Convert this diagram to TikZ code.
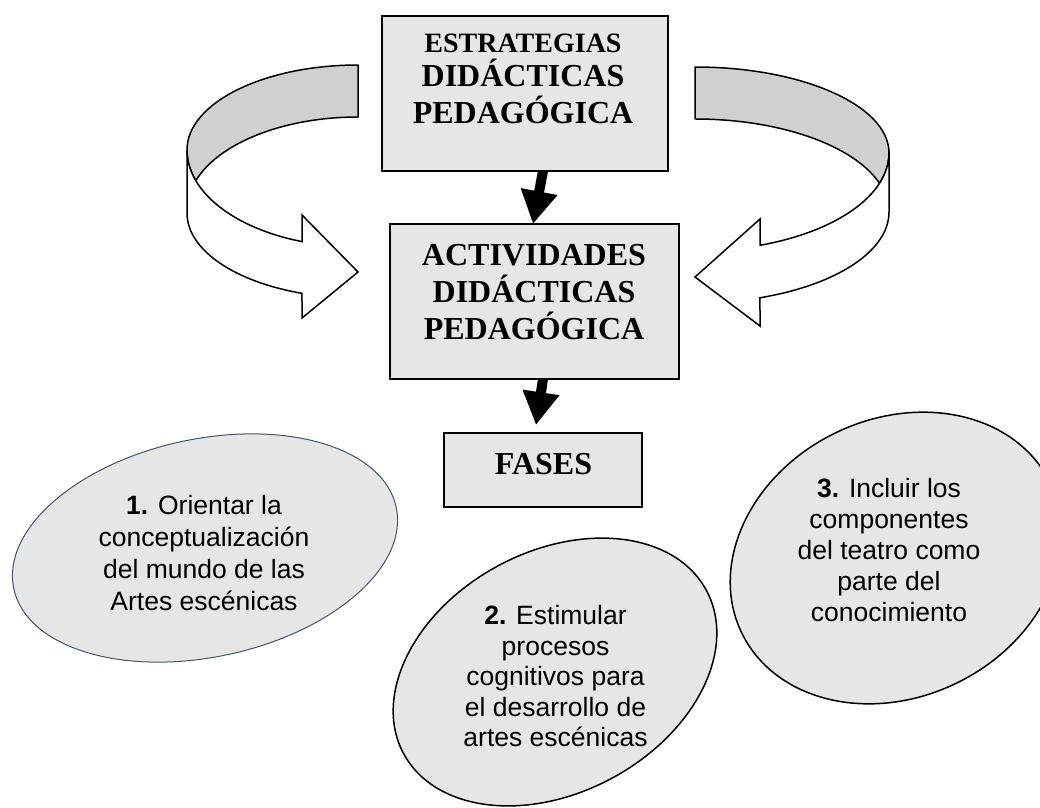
\documentclass[tikz,border=0pt]{standalone}
\usepackage{fontspec}
\setmainfont{Liberation Serif}
\newfontfamily\arialf{Liberation Sans}
\usetikzlibrary{shapes.geometric,arrows.meta,calc}
\definecolor{boxgray}{HTML}{E6E6E6}
\definecolor{bandgray}{HTML}{D0D0D0}
\definecolor{slate}{HTML}{44546A}
\begin{document}
\begin{tikzpicture}[x=1pt,y=-1pt,
  titlebox/.style={draw=black, line width=2pt, fill=boxgray, inner sep=0pt, outer sep=0pt},
  titletext/.style={font=\bfseries\fontsize{32}{37}\selectfont, align=center, inner sep=0pt},
  phase/.style={ellipse, fill=boxgray, inner sep=0pt, outer sep=0pt},
  phasetext/.style={font=\arialf\fontsize{26.5}{31}\selectfont, align=center, inner sep=0pt},
  backband/.style={draw=black, line width=1.5pt, fill=bandgray, line join=round},
  frontband/.style={draw=black, line width=1.5pt, fill=white, line join=miter},
  flow/.style={line width=10pt, -{Triangle[length=33pt,width=35pt]}}
]
\useasboundingbox (0,0) rectangle (1040,807);
\clip (0,0) rectangle (1040,807);

% curved arrow, left
\filldraw[backband] (358,65)
  arc[start angle=270, end angle=180, x radius=171, y radius=85]
  arc[start angle=180, end angle=161.59, x radius=171, y radius=97]
  arc[start angle=198.41, end angle=270, x radius=171, y radius=93] -- cycle;
\filldraw[frontband] (187,150) -- (187,213)
  arc[start angle=180, end angle=109.12, x radius=171, y radius=85]
  -- (302,318) -- (358,272) -- (302,215) -- (302,241.6)
  arc[start angle=109.12, end angle=180, x radius=171, y radius=97] -- cycle;

% curved arrow, right
\filldraw[backband] (695,67)
  arc[start angle=270, end angle=360, x radius=194, y radius=86]
  arc[start angle=0, end angle=17.99, x radius=194, y radius=98]
  arc[start angle=342.01, end angle=270, x radius=194, y radius=93] -- cycle;
\filldraw[frontband] (889,153) -- (889,212)
  arc[start angle=0, end angle=70.43, x radius=194, y radius=91]
  -- (760,326) -- (695,277) -- (760,219) -- (760,245.3)
  arc[start angle=70.43, end angle=0, x radius=194, y radius=98] -- cycle;

% boxes
\node[titlebox, minimum width=286pt, minimum height=155pt] (estr) at (525,93.5) {};
\node[titletext] (estrtxt) at (523,79.3) {{\fontsize{28}{34}\selectfont ESTRATEGIAS}\\[-3pt]DIDÁCTICAS\\PEDAGÓGICA};
\node[titlebox, minimum width=289pt, minimum height=155pt] (act) at (534.5,301.5) {};
\node[titletext] (acttxt) at (534,292.4) {ACTIVIDADES\\DIDÁCTICAS\\PEDAGÓGICA};
\node[titlebox, minimum width=198pt, minimum height=74pt] (fases) at (543,470) {};
\node[titletext] (fasestxt) at (543.5,464.4) {FASES};

% flow arrows
\draw[flow] ($(estr.south)+(18,0)$) -- ($(act.north)+(-1.5,0)$);
\draw[flow] ($(act.south)+(8.5,0)$) -- ($(fases.north)+(-7,-8)$);

% phases
\node[phase, draw=slate, line width=1pt, minimum width=391pt, minimum height=218pt, rotate=12] (ph1) at (205,548) {};
\node[phasetext, font=\arialf\fontsize{26.5}{32}\selectfont] (ph1txt) at (204,553) {\textbf{1.} Orientar la\\conceptualización\\del mundo de las\\Artes escénicas};
\node[phase, draw=black, line width=1.5pt, minimum width=344pt, minimum height=241pt, rotate=28.4] (ph2) at (555,672) {};
\node[phasetext, font=\arialf\fontsize{26.5}{30.5}\selectfont] (ph2txt) at (555.5,676.5) {\textbf{2.} Estimular\\procesos\\cognitivos para\\el desarrollo de\\artes escénicas};
\node[phase, draw=black, line width=1.5pt, minimum width=343pt, minimum height=278pt, rotate=26] (ph3) at (896,558) {};
\node[phasetext] (ph3txt) at (889,550.5) {\textbf{3.} Incluir los\\componentes\\del teatro como\\parte del\\conocimiento};
\end{tikzpicture}
\end{document}
